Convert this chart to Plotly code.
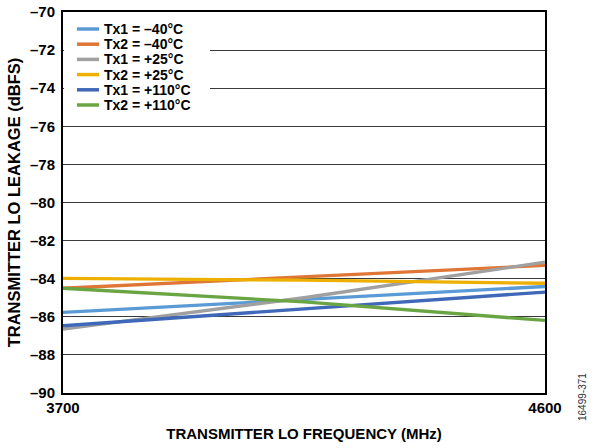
import plotly.graph_objects as go

freq = [3700, 4150, 4600]
names = ["Tx1 = –40°C", "Tx2 = –40°C", "Tx1 = +25°C", "Tx2 = +25°C", "Tx1 = +110°C", "Tx2 = +110°C"]
tx1_m40 = [-85.77, -85.10, -84.41]
tx2_m40 = [-84.50, -83.90, -83.30]
tx1_p25 = [-86.65, -85.00, -83.13]
tx2_p25 = [-83.98, -84.08, -84.24]
tx1_p110 = [-86.47, -85.60, -84.70]
tx2_p110 = [-84.50, -85.22, -86.19]
series = [tx1_m40, tx2_m40, tx1_p25, tx2_p25, tx1_p110, tx2_p110]
colors = ["#5B9BD5", "#DF7635", "#A0A0A0", "#EDB000", "#4068B8", "#6AA543"]

y_ticks = list(range(-70, -91, -2))
y_ticktext = ["–" + str(abs(v)) for v in y_ticks]
x_ticks = [3700, 4600]

W, H = 595, 448
L, R, T, B = 63, 50, 12, 55
pw, ph = W - L - R, H - T - B


def px(x):
    return (x - L) / pw


def py(y):
    return (H - B - y) / ph


fig = go.Figure()
for n, s, c in zip(names, series, colors):
    fig.add_trace(go.Scatter(x=freq, y=s, mode="lines", name=n, showlegend=False,
                             line=dict(color=c, width=3.3)))

font_b = "Liberation Sans, Arial, sans-serif"
fig.update_layout(
    width=W, height=H,
    margin=dict(l=L, r=R, t=T, b=B),
    paper_bgcolor="white", plot_bgcolor="white",
    font=dict(family=font_b, size=15, color="black"),
    showlegend=False,
    xaxis=dict(range=[3700, 4600], tickvals=x_ticks, ticktext=[str(v) for v in x_ticks],
               showgrid=False, zeroline=False, showline=True, linecolor="black", linewidth=2,
               mirror=True, ticks="", automargin=False,
               tickfont=dict(size=15, weight="bold"),
               title=dict(text="<b>TRANSMITTER LO FREQUENCY (MHz)</b>", font=dict(size=15), standoff=13)),
    yaxis=dict(range=[-90, -70], tickvals=y_ticks, ticktext=y_ticktext,
               showgrid=True, gridcolor="#3a3a3a", gridwidth=1.3, zeroline=False,
               showline=True, linecolor="black", linewidth=2, mirror=True, ticks="",
               automargin=False, ticklabelstandoff=3,
               tickfont=dict(size=15, weight="bold"),
               title=dict(text="<b>TRANSMITTER LO LEAKAGE (dBFS)</b>", font=dict(size=16.5), standoff=5)),
)

# legend (drawn manually to match the compact row spacing)
fig.add_shape(type="rect", xref="paper", yref="paper", x0=px(64), x1=px(210), y0=py(114), y1=py(14),
              fillcolor="white", line=dict(width=0), layer="above")
for i, (n, c) in enumerate(zip(names, colors)):
    yc = 29 + i * 15.2
    fig.add_shape(type="line", xref="paper", yref="paper", x0=px(77), x1=px(99), y0=py(yc), y1=py(yc),
                  line=dict(color=c, width=3.5), layer="above")
    fig.add_annotation(text="<b>" + n + "</b>", xref="paper", yref="paper", x=px(103), y=py(yc),
                       xanchor="left", yanchor="middle", showarrow=False, borderpad=0,
                       font=dict(size=14, family=font_b, color="black"))

fig.add_annotation(text="16499-371", xref="paper", yref="paper", x=px(582), y=py(397),
                   xanchor="center", yanchor="middle", textangle=-90, showarrow=False,
                   font=dict(size=10, color="#333333", family="Liberation Sans, Arial"))
fig.write_html("out.html", config={"displayModeBar": False},
               post_script="document.body.style.margin='0px';")
